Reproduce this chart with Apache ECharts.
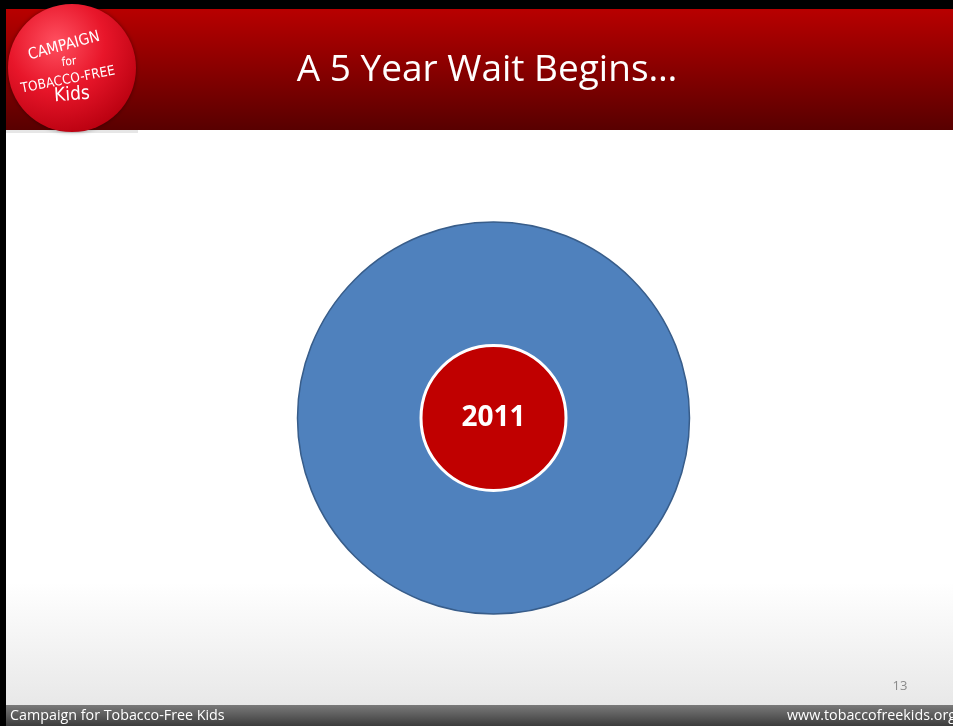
<!DOCTYPE html>
<html>
<head>
<meta charset="utf-8">
<script src="https://cdn.jsdelivr.net/npm/echarts@6/dist/echarts.min.js"></script>
<style>
html,body{margin:0;padding:0;background:#000;}
#chart{width:953px;height:726px;}
</style>
</head>
<body>
<div id="chart"></div>
<script>
// ---- data ----
var title = 'A 5 Year Wait Begins…';
var outerRing = [{ name: 'wait', value: 1 }];
var years = ['2011'];
var yearValues = [1];
var footerLeft = 'Campaign for Tobacco-Free Kids';
var footerRight = 'www.tobaccofreekids.org';
var pageNumber = '13';
var logoLines = ['CAMPAIGN', 'for', 'TOBACCO-FREE', 'Kids'];

var chart = echarts.init(document.getElementById('chart'), null, { renderer: 'canvas' });

var font = '"Liberation Sans Narrow", "Open Sans", sans-serif';
var titleFont = '"Open Sans", "Noto Sans", sans-serif';

var logoText = logoLines.map(function (t, i) {
  var pos = [[64, 46, 15, 15.5], [69, 62, 6, 12], [68, 80, 11, 13.5], [72, 95, 4, 19]][i];
  return {
    type: 'text', x: pos[0], y: pos[1], rotation: pos[2] * Math.PI / 180, z: 12,
    style: {
      text: t, fill: '#fff', font: pos[3] + 'px "DejaVu Sans Condensed", "Liberation Sans Narrow", sans-serif',
      textAlign: 'center', textVerticalAlign: 'middle'
    }
  };
});

var option = {
  backgroundColor: '#000',
  animation: false,
  graphic: [
    // slide body
    { type: 'rect', shape: { x: 6, y: 9, width: 947, height: 717 }, z: 0,
      style: { fill: new echarts.graphic.LinearGradient(0, 0, 0, 1, [
        { offset: 0, color: '#ffffff' }, { offset: 0.8, color: '#ffffff' }, { offset: 1, color: '#e4e4e4' }]) } },
    // header
    { type: 'rect', shape: { x: 6, y: 9, width: 947, height: 121 }, z: 1,
      style: { fill: new echarts.graphic.LinearGradient(0, 0, 0, 1, [
        { offset: 0, color: '#b80000' }, { offset: 1, color: '#580000' }]) } },
    { type: 'rect', shape: { x: 6, y: 130, width: 132, height: 3 }, z: 1, style: { fill: '#e6e6e6' } },
    // footer
    { type: 'rect', shape: { x: 6, y: 705, width: 947, height: 21 }, z: 1,
      style: { fill: new echarts.graphic.LinearGradient(0, 0, 0, 1, [
        { offset: 0, color: '#7a7a7a' }, { offset: 1, color: '#3c3c3c' }]) } },
    { type: 'text', x: 10, y: 716, z: 2,
      style: { text: footerLeft, fill: '#fff', font: '14.3px ' + font, textVerticalAlign: 'middle' } },
    { type: 'text', x: 956, y: 716, z: 2,
      style: { text: footerRight, fill: '#fff', font: '14.3px ' + font, textAlign: 'right', textVerticalAlign: 'middle' } },
    { type: 'text', x: 900, y: 686, z: 2,
      style: { text: pageNumber, fill: '#8a8a8a', font: '13px ' + font, textAlign: 'center', textVerticalAlign: 'middle' } },
    // title
    { type: 'text', x: 487, y: 70, z: 3,
      style: { text: title, fill: '#fff', font: '37px ' + titleFont, textAlign: 'center', textVerticalAlign: 'middle' } },
    // logo
    { type: 'circle', shape: { cx: 72, cy: 68, r: 64 }, z: 10,
      style: { fill: new echarts.graphic.RadialGradient(0.38, 0.3, 0.75, [
        { offset: 0, color: '#ff5060' }, { offset: 0.5, color: '#e8162a' }, { offset: 1, color: '#b8000f' }]),
        shadowBlur: 4, shadowColor: 'rgba(0,0,0,0.4)' } }
  ].concat(logoText),
  series: [
    {
      type: 'pie', center: [493.5, 418], radius: [0, 196], silent: true, z: 5,
      startAngle: 90, label: { show: false }, labelLine: { show: false },
      itemStyle: { color: '#4f81bd', borderColor: '#385d8a', borderWidth: 1.5 },
      data: outerRing
    },
    {
      type: 'pie', center: [493.5, 418], radius: [0, 72.5], silent: true, z: 6,
      startAngle: 90,
      label: { show: true, position: 'center', formatter: '{b}', color: '#fff',
        fontFamily: titleFont, fontWeight: 'bold', fontSize: 28 },
      labelLine: { show: false },
      itemStyle: { color: '#c00000', borderColor: '#ffffff', borderWidth: 3 },
      data: years.map(function (y, i) { return { name: y, value: yearValues[i] }; })
    }
  ]
};
chart.setOption(option);
</script>
</body>
</html>
